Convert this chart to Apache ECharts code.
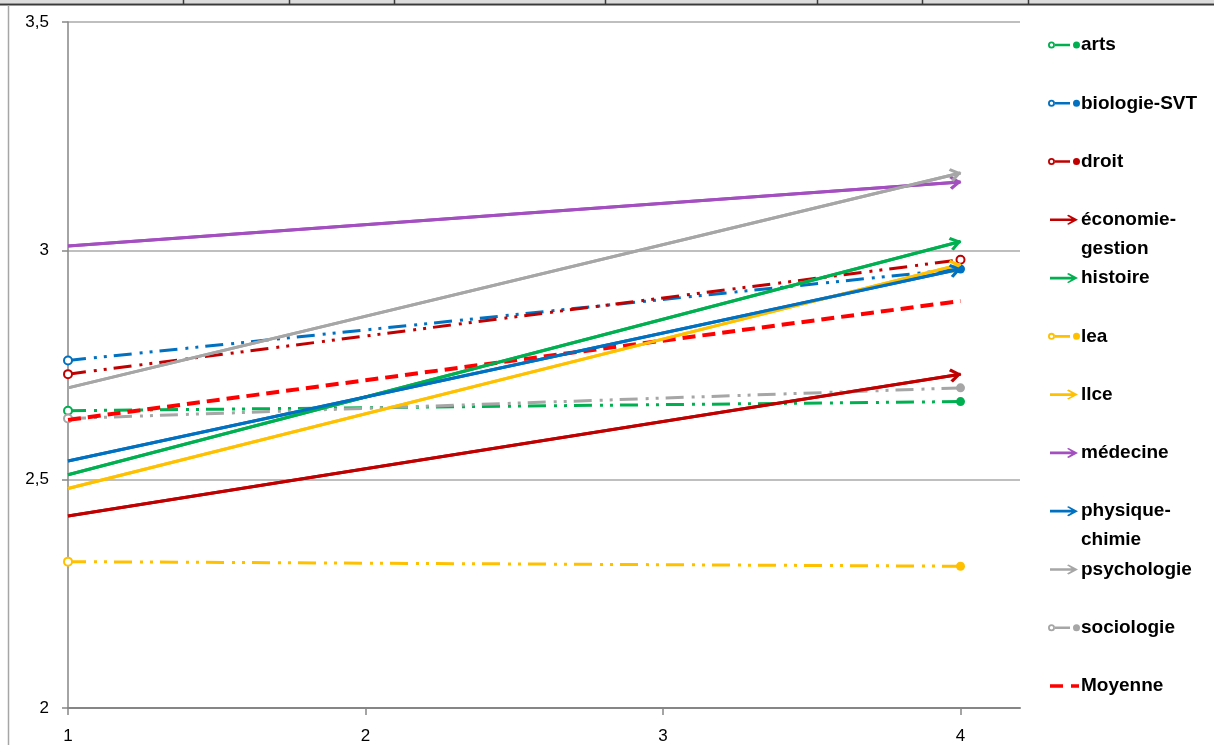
<!DOCTYPE html>
<html><head><meta charset="utf-8">
<script src="https://cdn.jsdelivr.net/npm/echarts@6/dist/echarts.min.js"></script>
<style>html,body{margin:0;padding:0;background:#fff}#c{width:1214px;height:745px}</style>
</head><body><div id="c"></div>
<script>
// ---- data ----
const xValues = [1, 4];
const xTickValues = [1, 2, 3, 4];
const seriesNames = ['arts', 'biologie-SVT', 'droit', 'économie-gestion', 'histoire', 'lea', 'llce', 'médecine', 'physique-chimie', 'psychologie', 'sociologie', 'Moyenne'];
const legendLabels = ['arts', 'biologie-SVT', 'droit', 'économie-\ngestion', 'histoire', 'lea', 'llce', 'médecine', 'physique-\nchimie', 'psychologie', 'sociologie', 'Moyenne'];
const arts = [2.65, 2.67];
const biologieSVT = [2.76, 2.96];
const droit = [2.73, 2.98];
const economieGestion = [2.42, 2.73];
const histoire = [2.51, 3.02];
const lea = [2.32, 2.31];
const llce = [2.48, 2.97];
const medecine = [3.01, 3.15];
const physiqueChimie = [2.54, 2.96];
const psychologie = [2.70, 3.17];
const sociologie = [2.633, 2.70];
const moyenne = [2.63, 2.89];
const seriesValues = [arts, biologieSVT, droit, economieGestion, histoire, lea, llce, medecine, physiqueChimie, psychologie, sociologie, moyenne];

// ---- styles ----
const GREEN = '#00B050', BLUE = '#0070C0', DRED = '#C00000', YEL = '#FFC000', PURP = '#A34FBF', GRAY = '#A6A6A6', RED = '#FF0000';
const styleOf = {
  'arts': { color: GREEN, kind: 'dot' },
  'biologie-SVT': { color: BLUE, kind: 'dot' },
  'droit': { color: DRED, kind: 'dot', endOpen: true },
  'économie-gestion': { color: DRED, kind: 'arrow' },
  'histoire': { color: GREEN, kind: 'arrow' },
  'lea': { color: YEL, kind: 'dot' },
  'llce': { color: YEL, kind: 'arrow' },
  'médecine': { color: PURP, kind: 'arrow' },
  'physique-chimie': { color: BLUE, kind: 'arrow' },
  'psychologie': { color: GRAY, kind: 'arrow' },
  'sociologie': { color: GRAY, kind: 'dot' },
  'Moyenne': { color: RED, kind: 'mean' }
};
const DASH_DOT_DOT = [18, 8, 3, 7, 3, 7];
const ARROW_HEAD = 'path://M10 0 L20 11 L16.8 13.5 L10 5.8 L3.2 13.5 L0 11 Z';
const ICON_DOT = 'path://M0 4 A3.5 3.5 0 1 0 7 4 A3.5 3.5 0 1 0 0 4 Z M1.8 4 A1.7 1.7 0 1 1 5.2 4 A1.7 1.7 0 1 1 1.8 4 Z M6.8 2.7 H22 V5.3 H6.8 Z M25 4 A3.5 3.5 0 1 0 32 4 A3.5 3.5 0 1 0 25 4 Z';
const ICON_ARROW = 'path://M0 3.7 H21.5 L17 0.9 L18.6 0 L28 5 L18.6 10 L17 9.1 L21.5 6.3 H0 Z';
const ICON_MEAN = 'path://M0 0 H13 V3.5 H0 Z M21 0 H29 V3.5 H21 Z';

function makeSeries(name, vals, idx) {
  const st = styleOf[name];
  const pts = xValues.map((x, i) => [x, vals[i]]);
  const s = {
    name: name, type: 'line', color: st.color, z: 2 + idx * 0.01,
    itemStyle: { color: st.color },
    lineStyle: { color: st.color, width: 3, type: 'solid', cap: 'butt' },
    emphasis: { disabled: true }, animation: false, clip: false
  };
  if (st.kind === 'dot') {
    s.lineStyle.type = DASH_DOT_DOT;
    s.showSymbol = true;
    s.data = pts.map((p, i) => {
      const open = (i === 0) || st.endOpen;
      return {
        value: p, symbol: 'circle', symbolSize: open ? 8 : 9,
        itemStyle: open ? { color: '#fff', borderColor: st.color, borderWidth: 2 } : { color: st.color, borderWidth: 0 }
      };
    });
  } else if (st.kind === 'arrow') {
    s.showSymbol = false; s.symbol = 'none';
    s.data = pts;
    s.markLine = {
      silent: true, animation: false,
      symbol: ['none', ARROW_HEAD], symbolSize: [14, 12], symbolOffset: [0, [0, 5]],
      label: { show: false },
      lineStyle: { color: st.color, width: 3, type: 'solid' },
      emphasis: { disabled: true },
      data: [[{ coord: pts[0] }, { coord: pts[pts.length - 1] }]]
    };
  } else {
    s.showSymbol = false; s.symbol = 'none';
    s.lineStyle.width = 4;
    s.lineStyle.type = [13, 7];
    s.data = pts;
  }
  return s;
}

const series = seriesNames.map((n, i) => makeSeries(n, seriesValues[i], i));

const legends = seriesNames.map((n, i) => {
  const st = styleOf[n];
  const label = legendLabels[i];
  const two = label.indexOf('\n') >= 0;
  const c = 45 + i * 58.27;
  let icon, w, h, left, padL;
  if (st.kind === 'dot') { icon = ICON_DOT; w = 32; h = 8; left = 1048; padL = -4; }
  else if (st.kind === 'arrow') { icon = ICON_ARROW; w = 28; h = 10; left = 1050; padL = -2; }
  else { icon = ICON_MEAN; w = 29; h = 4; left = 1050; padL = -3; }
  const text = two ? '\n' + label : label;
  return {
    id: 'lg' + i, show: true, selectedMode: false, orient: 'vertical',
    left: left, top: c - 14.5 - (two ? 29 : 0), padding: 0,
    itemWidth: w, itemHeight: h,
    data: [{ name: n, icon: icon }],
    itemStyle: { borderWidth: 0 },
    formatter: () => text,
    textStyle: { color: '#000', fontFamily: 'Liberation Sans, Arial, sans-serif', fontWeight: 'bold', fontSize: 19, lineHeight: 29, padding: [0, 0, 0, padL] }
  };
});

const chart = echarts.init(document.getElementById('c'), null, { renderer: 'canvas' });
chart.setOption({
  animation: false,
  backgroundColor: '#fff',
  grid: { left: 68, right: 194, top: 22, bottom: 37, containLabel: false },
  xAxis: {
    type: 'value', min: 1, max: 4.2, interval: 1,
    axisLine: { show: true, onZero: false, lineStyle: { color: '#868686', width: 2 } },
    axisTick: { show: true, length: 7, customValues: xTickValues, lineStyle: { color: '#868686', width: 1.5 } },
    axisLabel: { customValues: xTickValues, margin: 20, color: '#000', fontFamily: 'Liberation Sans, Arial, sans-serif', fontSize: 17,
      formatter: v => (Number.isInteger(v) ? String(v) : '') },
    splitLine: { show: false }
  },
  yAxis: {
    type: 'value', min: 2, max: 3.5, interval: 0.5,
    axisLine: { show: true, onZero: false, lineStyle: { color: '#868686', width: 1.5 } },
    axisTick: { show: true, length: 6, lineStyle: { color: '#868686', width: 1.5 } },
    axisLabel: { margin: 19, color: '#000', fontFamily: 'Liberation Sans, Arial, sans-serif', fontSize: 17,
      formatter: v => String(v).replace('.', ',') },
    splitLine: { show: true, lineStyle: { color: '#BFBFBF', width: 2 } }
  },
  legend: legends,
  series: series,
  graphic: [
    { type: 'rect', silent: true, shape: { x: 0, y: 0, width: 1214, height: 3.5 }, style: { fill: '#DCDCDC' } },
    { type: 'line', silent: true, shape: { x1: 0, y1: 4.5, x2: 1214, y2: 4.5 }, style: { stroke: '#3A3A3A', lineWidth: 2 } },
    ...[183, 289, 394, 605, 817, 922, 1028].map(x => ({ type: 'line', silent: true, shape: { x1: x + 0.5, y1: 0, x2: x + 0.5, y2: 4 }, style: { stroke: '#3A3A3A', lineWidth: 1.5 } })),
    { type: 'line', silent: true, shape: { x1: 8.5, y1: 5, x2: 8.5, y2: 745 }, style: { stroke: '#A6A6A6', lineWidth: 1.5 } }
  ]
});
</script></body></html>
